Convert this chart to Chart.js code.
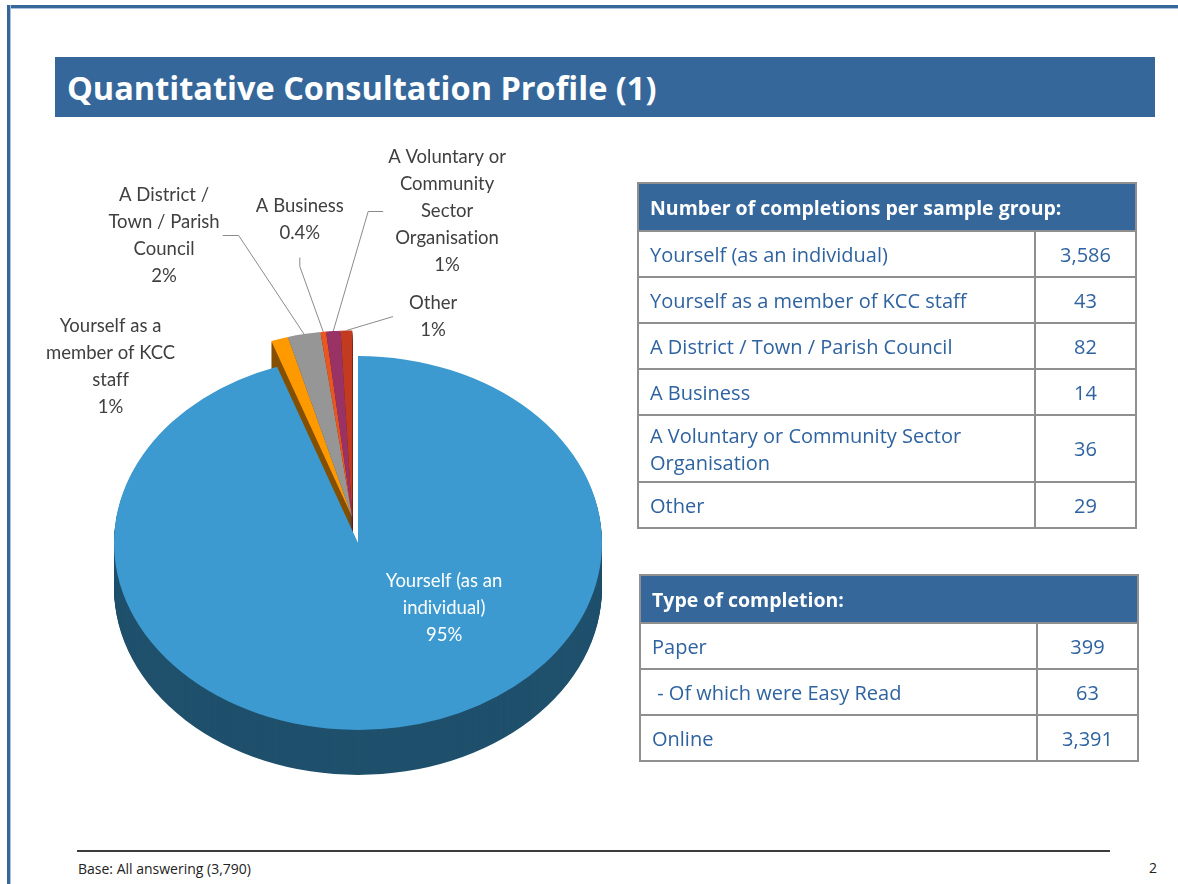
<!DOCTYPE html>
<html>
<head>
<meta charset="utf-8">
<script src="https://cdn.jsdelivr.net/npm/chart.js@4.4.1/dist/chart.umd.min.js"></script>
<style>
    body { margin: 0; width: 1178px; height: 884px; overflow: hidden; background: #fff; position: relative; font-family: 'Open Sans', Lato, sans-serif; font-variant-ligatures: none; }
    .frame-top { position: absolute; left: 7px; top: 5px; right: 0; height: 3px; background: #35679b; border-bottom: 1px solid #a9c1dd; }
    .frame-left { position: absolute; left: 7px; top: 5px; bottom: 0; width: 3px; background: #35679b; border-right: 1px solid #a9c1dd; }
    .title { position: absolute; left: 55px; top: 57px; width: 1100px; height: 60px; background: #35679a; color: #fff; font-weight: bold; font-size: 32.5px; line-height: 62px; padding-left: 12px; box-sizing: border-box; }
    #pieBox { position: absolute; left: 20px; top: 130px; width: 620px; height: 690px; }
    table.info { position: absolute; border-collapse: collapse; color: #2f63a0; font-size: 20px; }
    table.info th { background: #35679a; color: #fff; text-align: left; font-size: 19.5px; font-weight: bold; padding: 0 11px; height: 46px; border: 2px solid #8f8f8f; }
    table.info td { border: 2px solid #8f8f8f; padding: 0 11px; height: 44px; line-height: 27px; }
    table.info td.num { text-align: center; padding: 0; }
    #groupTable { left: 637px; top: 182px; width: 500px; }
    #typeTable { left: 639px; top: 574px; width: 500px; }
    .rule { position: absolute; left: 77px; top: 850px; width: 1033px; height: 2px; background: #3c3c3c; }
    .base { position: absolute; left: 78px; top: 859px; font-size: 14px; color: #222; }
    .pageno { position: absolute; left: 1149px; top: 858px; font-size: 14px; color: #222; }
</style>
</head>
<body>
<div class="frame-top"></div>
<div class="frame-left"></div>
<div class="title">Quantitative Consultation Profile (1)</div>
<div id="pieBox"><canvas id="pieChart"></canvas></div>
<table class="info" id="groupTable"></table>
<table class="info" id="typeTable"></table>
<div class="rule"></div>
<div class="base">Base: All answering (3,790)</div>
<div class="pageno">2</div>

<script>
// sample groups (table 1 and pie)
const sampleGroups = ['Yourself (as an individual)', 'Yourself as a member of KCC staff', 'A District / Town / Parish Council', 'A Business', 'A Voluntary or Community Sector Organisation', 'Other'];
const completions = [3586, 43, 82, 14, 36, 29];
// how the pie labels wrap
const pieLabelLines = [
    ['Yourself (as an', 'individual)'],
    ['Yourself as a', 'member of KCC', 'staff'],
    ['A District /', 'Town / Parish', 'Council'],
    ['A Business'],
    ['A Voluntary or', 'Community', 'Sector', 'Organisation'],
    ['Other']
];
const sliceColours = ['#3c9ad0', '#ff9900', '#969696', '#ea561f', '#993366', '#c23b21'];

// type of completion (table 2)
const completionTypes = ['Paper', '\u00a0- Of which were Easy Read', 'Online'];
const completionTypeCounts = [399, 63, 3391];

var total = completions.reduce(function (a, b) { return a + b; }, 0);

function pctText(v) {
    var p = v / total * 100;
    return p < 0.5 ? p.toFixed(1) + '%' : Math.round(p) + '%';
}

function fillTable(id, heading, names, values) {
    var html = '<tr><th colspan="2">' + heading + '</th></tr>';
    names.forEach(function (name, i) {
        html += '<tr><td>' + name + '</td><td class="num">' + values[i].toLocaleString('en-GB') + '</td></tr>';
    });
    document.getElementById(id).innerHTML = html;
}
fillTable('groupTable', 'Number of completions per sample group:', sampleGroups, completions);
fillTable('typeTable', 'Type of completion:', completionTypes, completionTypeCounts);
document.querySelector('#groupTable tr:nth-child(6) td').style.height = '65px';
document.querySelectorAll('#groupTable td:first-child').forEach(function (td) { td.style.width = '373px'; });
document.querySelectorAll('#typeTable td:first-child').forEach(function (td) { td.style.width = '373px'; });

function shade(hex, f) {
    var n = parseInt(hex.slice(1), 16);
    var r = Math.round((n >> 16) * f), g = Math.round(((n >> 8) & 255) * f), b = Math.round((n & 255) * f);
    return 'rgb(' + r + ',' + g + ',' + b + ')';
}

// fake 3D: squash the pie, add a side wall, pull the small slices out
const pie3d = {
    id: 'pie3d',
    afterDatasetUpdate(chart, args, opts) {
        var arcs = args.meta.data;
        var a0 = Infinity, a1 = -Infinity;
        arcs.forEach(function (arc, i) {
            if (opts.explode[i]) {
                a0 = Math.min(a0, arc.startAngle);
                a1 = Math.max(a1, arc.endAngle);
            }
        });
        var mid = (a0 + a1) / 2;
        arcs.forEach(function (arc, i) {
            var d = opts.explode[i] || 0;
            arc.x += Math.cos(mid) * d;
            arc.y += Math.sin(mid) * d;
        });
    },
    beforeDatasetsDraw(chart, args, opts) {
        var ctx = chart.ctx, area = chart.chartArea;
        var cx = (area.left + area.right) / 2, cy = (area.top + area.bottom) / 2;
        var k = opts.tilt;
        ctx.save();
        ctx.translate(cx, cy);
        ctx.scale(1, k);
        ctx.translate(-cx, -cy);
        var arcs = chart.getDatasetMeta(0).data;
        for (var d = opts.depth; d > 0; d--) {
            arcs.forEach(function (arc) {
                var y = arc.y + d / k;
                ctx.beginPath();
                ctx.moveTo(arc.x, y);
                ctx.arc(arc.x, y, arc.outerRadius, arc.startAngle, arc.endAngle);
                ctx.closePath();
                ctx.fillStyle = shade(arc.options.backgroundColor, opts.shade);
                ctx.fill();
            });
        }
    },
    afterDatasetsDraw(chart) {
        chart.ctx.restore();
    },
    afterDraw(chart, args, opts) {
        var ctx = chart.ctx, area = chart.chartArea;
        var cy = (area.top + area.bottom) / 2;
        var k = opts.tilt;
        var lh = 27;
        ctx.save();
        ctx.font = '18.5px Lato';
        ctx.textAlign = 'center';
        ctx.textBaseline = 'middle';
        chart.getDatasetMeta(0).data.forEach(function (arc, i) {
            var place = opts.labels[i];
            var mid = (arc.startAngle + arc.endAngle) / 2;
            var ax = arc.x + Math.cos(mid) * arc.outerRadius;
            var ay = cy + (arc.y + Math.sin(mid) * arc.outerRadius - cy) * k;
            var lines = pieLabelLines[i].concat([pctText(completions[i])]);
            var lx = ax + place.dx, ly = ay + place.dy;
            var w = Math.max.apply(null, lines.map(function (t) { return ctx.measureText(t).width; }));
            var h = lines.length * lh;

            if (place.leader) {
                var px, py, ex, ey;
                if (place.leader === 'right') {
                    px = lx + w / 2 + place.gap; py = ly; ex = px + place.elbow; ey = py;
                } else if (place.leader === 'left') {
                    px = lx - w / 2 - place.gap; py = ly; ex = px - place.elbow; ey = py;
                } else {
                    px = lx; py = ly + h / 2 + place.gap; ex = px; ey = py + place.elbow;
                }
                ctx.strokeStyle = '#8a8a8a';
                ctx.lineWidth = 1;
                ctx.beginPath();
                ctx.moveTo(px, py);
                ctx.lineTo(ex, ey);
                ctx.lineTo(ax, ay);
                ctx.stroke();
            }

            ctx.fillStyle = i === 0 ? '#ffffff' : '#404040';
            lines.forEach(function (t, j) {
                ctx.fillText(t, lx, ly - h / 2 + lh / 2 + j * lh);
            });
        });
        ctx.restore();
    }
};

var ctx = document.getElementById('pieChart').getContext('2d');
var pieChart = new Chart(ctx, {
    type: 'pie',
    data: {
        labels: sampleGroups,
        datasets: [{
            data: completions,
            backgroundColor: sliceColours,
            borderWidth: 0,
            radius: 244,
            clip: false
        }]
    },
    options: {
        responsive: true,
        maintainAspectRatio: false,
        animation: false,
        layout: { padding: { left: 56, top: 136, right: 0, bottom: 0 } },
        plugins: {
            legend: { display: false },
            tooltip: { enabled: false },
            pie3d: {
                tilt: 0.766,
                depth: 45,
                shade: 0.52,
                explode: [0, 34, 34, 34, 34, 34],
                labels: [
                    { dx: 45, dy: -119 },
                    { dx: -169, dy: 27.5 },
                    { dx: -140, dy: -98.6, leader: 'right', gap: 3, elbow: 16 },
                    { dx: -23.4, dy: -112.2, leader: 'bottom', gap: 11, elbow: 9 },
                    { dx: 113.8, dy: -119.5, leader: 'left', gap: 5, elbow: 15 },
                    { dx: 86.7, dy: -13.9, leader: 'left', gap: 16, elbow: 0 }
                ]
            }
        }
    },
    plugins: [pie3d]
});
</script>
</body>
</html>
